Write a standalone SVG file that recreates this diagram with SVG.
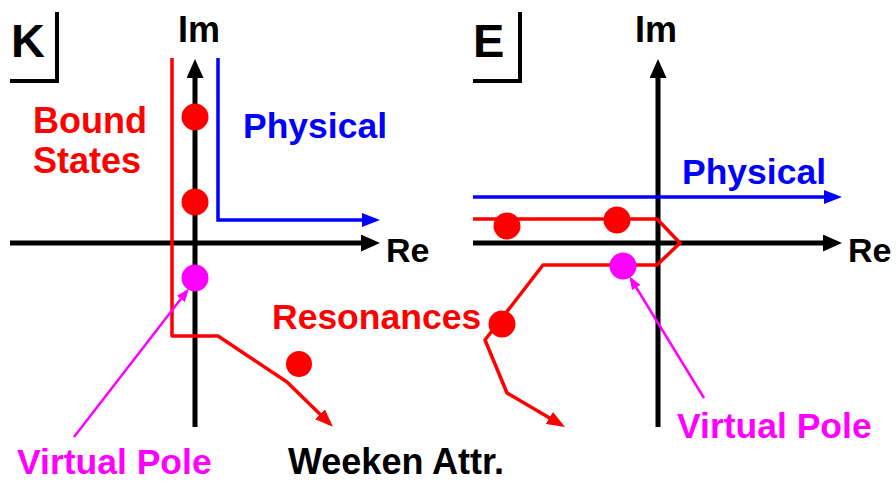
<svg xmlns="http://www.w3.org/2000/svg" width="896" height="482" viewBox="0 0 896 482">
<style>
.t{font-family:"Liberation Sans",Arial,sans-serif;font-weight:bold}
.ax{stroke:#000;stroke-width:5;fill:none}
.br{stroke:#000;stroke-width:4;fill:none}
.rd{stroke:#f00;stroke-width:3.5;fill:none;stroke-linejoin:round}
.bl{stroke:#00f;stroke-width:3.5;fill:none}
.mg{stroke:#f0f;stroke-width:2.5;fill:none}
</style>
<defs>
<marker id="ab" markerUnits="userSpaceOnUse" markerWidth="19" markerHeight="17" refX="9" refY="8.5" orient="auto"><path d="M0,0 L19,8.5 L0,17 z" fill="#000"/></marker>
<marker id="ar" markerUnits="userSpaceOnUse" markerWidth="18" markerHeight="14" refX="14" refY="7" orient="auto"><path d="M0,0 L18,7 L0,14 z" fill="#f00"/></marker>
<marker id="abl" markerUnits="userSpaceOnUse" markerWidth="18" markerHeight="14" refX="8" refY="7" orient="auto"><path d="M0,0 L18,7 L0,14 z" fill="#00f"/></marker>
<marker id="am" markerUnits="userSpaceOnUse" markerWidth="13" markerHeight="10" refX="10" refY="5" orient="auto"><path d="M0,0 L13,5 L0,10 z" fill="#f0f"/></marker>
</defs>

<g id="panel-k">
<text class="t" x="11" y="57" font-size="47">K</text>
<path class="br" d="M57,12 V81 H10"/>
<text class="t" x="178" y="42" font-size="36">Im</text>
<text class="t" x="386" y="262" font-size="34">Re</text>
</g>
<g id="panel-e">
<text class="t" x="473" y="57" font-size="47">E</text>
<path class="br" d="M520,12 V81 H473"/>
<text class="t" x="635" y="42" font-size="36">Im</text>
<text class="t" x="848" y="262" font-size="34">Re</text>
</g>

<g id="connectors">
<line class="ax" x1="10" y1="243" x2="370" y2="243" marker-end="url(#ab)"/>
<line class="ax" x1="195" y1="427" x2="195" y2="69" marker-end="url(#ab)"/>
<line class="ax" x1="473" y1="243" x2="832" y2="243" marker-end="url(#ab)"/>
<line class="ax" x1="658" y1="427" x2="658" y2="69" marker-end="url(#ab)"/>
<path class="bl" d="M218,58 V220 H370" marker-end="url(#abl)"/>
<path class="bl" d="M473,197 H832" marker-end="url(#abl)"/>
<path class="rd" d="M172,58 V336 H218 L287,382 L330,424" marker-end="url(#ar)"/>
<path class="rd" d="M473,219 H657 L680,243 L657,265 H543 L485,340 L507,393 L561.5,425" marker-end="url(#ar)"/>
<line class="mg" x1="74" y1="437" x2="187" y2="291" marker-end="url(#am)"/>
<line class="mg" x1="704" y1="398" x2="631" y2="279" marker-end="url(#am)"/>
</g>

<g id="bound-states">
<circle cx="195" cy="117" r="13.5" fill="#f00"/>
<circle cx="195" cy="202" r="13.5" fill="#f00"/>
<text class="t" x="33" y="133" font-size="36" fill="#f00">Bound</text>
<text class="t" x="33" y="173" font-size="36" fill="#f00">States</text>
</g>
<g id="physical-k">
<text class="t" x="243" y="138" font-size="35.5" fill="#00f">Physical</text>
</g>
<g id="physical-e">
<text class="t" x="682" y="184" font-size="35.5" fill="#00f">Physical</text>
</g>
<g id="resonances">
<circle cx="299" cy="364" r="13" fill="#f00"/>
<circle cx="507" cy="226" r="13.5" fill="#f00"/>
<circle cx="617" cy="220" r="13.5" fill="#f00"/>
<circle cx="502" cy="324" r="13.5" fill="#f00"/>
<text class="t" x="272" y="329" font-size="35.5" fill="#f00">Resonances</text>
</g>
<g id="virtual-pole-k">
<circle cx="195" cy="278" r="13.5" fill="#f0f"/>
<text class="t" x="17" y="474" font-size="35.5" fill="#f0f">Virtual Pole</text>
</g>
<g id="virtual-pole-e">
<circle cx="623" cy="266" r="13.5" fill="#f0f"/>
<text class="t" x="677" y="438" font-size="35.5" fill="#f0f">Virtual Pole</text>
</g>
<g id="weaken">
<text class="t" x="288" y="474" font-size="36" fill="#000">Weeken Attr.</text>
</g>
</svg>
